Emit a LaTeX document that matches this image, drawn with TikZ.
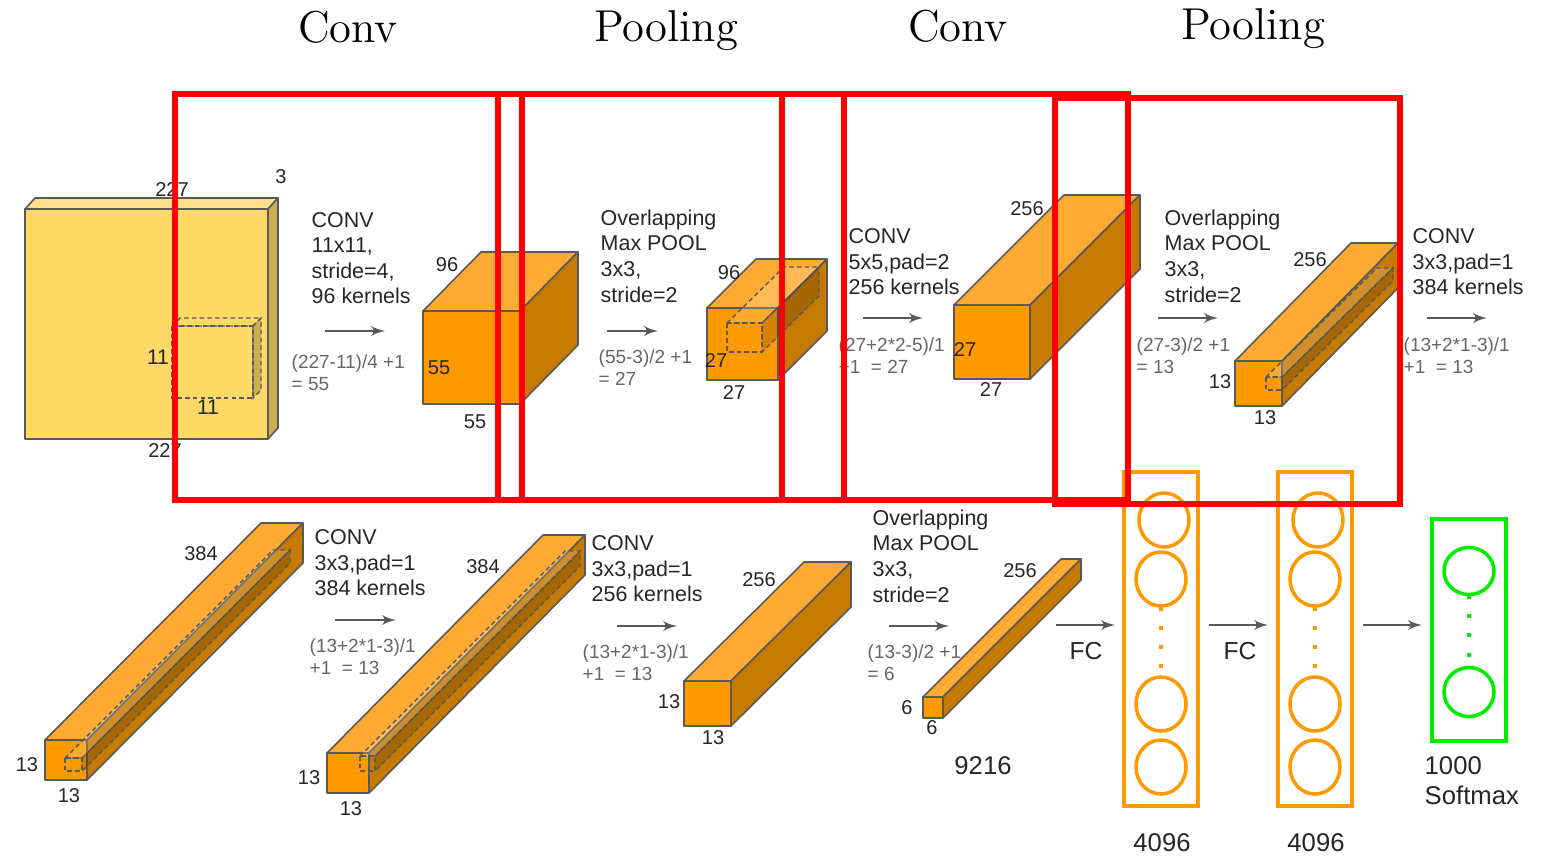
\documentclass[tikz,border=0pt]{standalone}
\usepackage{xcolor}
\usepackage{fontspec}
\setsansfont{Liberation Sans}
\usepackage{tikz}
\usetikzlibrary{shapes.geometric, arrows}

\definecolor{yelfront}{HTML}{FFD966}
\definecolor{yeltop}{HTML}{FFE08A}
\definecolor{yelside}{HTML}{CCAE52}
\definecolor{orgfront}{HTML}{FF9900}
\definecolor{orgtop}{HTML}{FFAB33}
\definecolor{orgside}{HTML}{C67A00}
\definecolor{edge}{HTML}{595959}
\definecolor{fclayer}{HTML}{FF9900}
\definecolor{outlayer}{HTML}{00EE00}

% block: colour prefix, front x, y, w, h, depth dx, dy
\newcommand{\cuboid}[7][org]{
    \draw [face, fill=#1top] (#2,#3) -- ++(#6,-#7) -- ++(#4,0) -- ++(-#6,#7) -- cycle;
    \draw [face, fill=#1side] (#2+#4,#3) -- ++(#6,-#7) -- ++(0,#5) -- ++(-#6,#7) -- cycle;
    \draw [face, fill=#1front] (#2,#3) rectangle ++(#4,#5);
}
% receptive field: top look, side look, front x, y, w, h, depth dx, dy
\newcommand{\kernelbox}[8]{
    \draw [window, #1] (#3,#4) -- ++(#7,-#8) -- ++(#5,0) -- ++(-#7,#8) -- cycle;
    \draw [window, #2] (#3+#5,#4) -- ++(#7,-#8) -- ++(0,#6) -- ++(-#7,#8) -- cycle;
    \draw [window] (#3,#4) rectangle ++(#5,#6);
}

\begin{document}
\begin{tikzpicture}[x=0.01cm, y=-0.01cm,
    face/.style={draw=edge, line width=0.45pt, line join=round},
    window/.style={draw=edge, line width=0.4pt, dash pattern=on 1.3pt off 0.9pt},
    washtop/.style={fill=white, fill opacity=0.17},
    washside/.style={fill=black, fill opacity=0.16},
    flow/.style={-latex', draw=edge, line width=0.4pt},
    dims/.style={font=\sffamily\fontsize{5.7}{7}\selectfont, text=black!85, inner sep=0pt},
    steps/.style={font=\sffamily\fontsize{6.1}{7.27}\selectfont, text=black!85, align=left, anchor=west, inner sep=0pt},
    calcs/.style={font=\sffamily\fontsize{5.4}{6.27}\selectfont, text=black!60, align=left, anchor=west, inner sep=0pt},
    sizes/.style={font=\sffamily\fontsize{7.3}{8.6}\selectfont, text=black!85, align=left, inner sep=0pt},
    heading/.style={font=\fontsize{12.7}{14}\selectfont, inner sep=0pt},
    layerbox/.style={rectangle, draw, line width=1.1pt, minimum width=0.74cm},
    neuron/.style={ellipse, draw, line width=1pt, minimum width=0.5cm, inner sep=0pt},
    dotmark/.style={rectangle, fill, minimum size=0.04cm, inner sep=0pt},
    redbox/.style={draw=red, line width=1.5pt}]

    \useasboundingbox (0,0) rectangle (1542,856);

    % blocks, top row
    \cuboid[yel]{25}{209}{243}{230}{10}{11}
    \kernelbox{fill=yelfront}{fill=yelside}{172}{326}{81}{72}{8}{8}
    \cuboid{423}{311}{97}{93}{58}{59}
    \cuboid{707}{308}{71}{72}{49}{49}
    \kernelbox{washtop}{washside}{727}{323}{35}{29}{57}{56}
    \cuboid{954}{305}{76}{74}{110}{110}
    \cuboid{1235}{361}{47}{45}{116}{118}
    \kernelbox{washtop}{washside}{1266}{377}{16}{13}{111}{109}

    % blocks, bottom row
    \cuboid{45}{740}{42}{40}{216}{217}
    \kernelbox{washtop}{washside}{65}{758}{17}{13}{208}{208}
    \cuboid{327}{753}{42}{40}{216}{218}
    \kernelbox{washtop}{washside}{360}{756}{15}{15}{205}{205}
    \cuboid{684}{681}{47}{45}{120}{119}
    \cuboid{923}{697}{20}{21}{138}{138}

    % fully connected layers
    \node [layerbox, draw=fclayer, minimum height=3.34cm] (fcone) at (1161,639) {};
    \node [layerbox, draw=fclayer, minimum height=3.34cm] (fctwo) at (1315,639) {};
    \node [layerbox, draw=outlayer, minimum height=2.22cm] (softmax) at (1469,630) {};

    \node [neuron, draw=fclayer, minimum height=0.54cm] (fcone1) at (1164,520) {};
    \node [neuron, draw=fclayer, minimum height=0.54cm] (fcone2) at (1161,579) {};
    \node [neuron, draw=fclayer, minimum height=0.54cm] (fcone3) at (1161,704) {};
    \node [neuron, draw=fclayer, minimum height=0.54cm] (fcone4) at (1161,767) {};
    \node [dotmark, fill=fclayer] (fconea) at (1161,609) {};
    \node [dotmark, fill=fclayer] (fconeb) at (1161,628) {};
    \node [dotmark, fill=fclayer] (fconec) at (1161,647) {};
    \node [dotmark, fill=fclayer] (fconed) at (1161,666) {};

    \node [neuron, draw=fclayer, minimum height=0.54cm] (fctwo1) at (1318,520) {};
    \node [neuron, draw=fclayer, minimum height=0.54cm] (fctwo2) at (1315,579) {};
    \node [neuron, draw=fclayer, minimum height=0.54cm] (fctwo3) at (1315,704) {};
    \node [neuron, draw=fclayer, minimum height=0.54cm] (fctwo4) at (1315,767) {};
    \node [dotmark, fill=fclayer] (fctwoa) at (1315,609) {};
    \node [dotmark, fill=fclayer] (fctwob) at (1315,628) {};
    \node [dotmark, fill=fclayer] (fctwoc) at (1315,647) {};
    \node [dotmark, fill=fclayer] (fctwod) at (1315,666) {};

    \node [neuron, draw=outlayer, minimum height=0.47cm] (softmax1) at (1469,571) {};
    \node [neuron, draw=outlayer, minimum height=0.49cm] (softmax2) at (1469,692) {};
    \node [dotmark, fill=outlayer] (softmaxa) at (1469,597) {};
    \node [dotmark, fill=outlayer] (softmaxb) at (1469,616) {};
    \node [dotmark, fill=outlayer] (softmaxc) at (1469,635) {};
    \node [dotmark, fill=outlayer] (softmaxd) at (1469,655) {};

    % arrows
    \coordinate (conva) at (325,331); \coordinate (convb) at (385,331);
    \coordinate (poola) at (607,331); \coordinate (poolb) at (658,331);
    \coordinate (convc) at (863,318); \coordinate (convd) at (923,318);
    \coordinate (poolc) at (1158,318); \coordinate (poold) at (1218,318);
    \coordinate (conve) at (1427,318); \coordinate (convf) at (1487,318);
    \coordinate (convg) at (335,620); \coordinate (convh) at (396,620);
    \coordinate (convi) at (617,626); \coordinate (convj) at (677,626);
    \coordinate (poole) at (889,626); \coordinate (poolf) at (949,626);
    \coordinate (fca) at (1056,625); \coordinate (fcb) at (1115,625);
    \coordinate (fcc) at (1209,625); \coordinate (fcd) at (1268,625);
    \coordinate (fce) at (1363,625); \coordinate (fcf) at (1422,625);

    \draw [flow] (conva) -- (convb);
    \draw [flow] (poola) -- (poolb);
    \draw [flow] (convc) -- (convd);
    \draw [flow] (poolc) -- (poold);
    \draw [flow] (conve) -- (convf);
    \draw [flow] (convg) -- (convh);
    \draw [flow] (convi) -- (convj);
    \draw [flow] (poole) -- (poolf);
    \draw [flow] (fca) -- (fcb);
    \draw [flow] (fcc) -- (fcd);
    \draw [flow] (fce) -- (fcf);

    % operation labels
    \node [steps] (opone) at (311,258) {CONV\\11x11,\\stride=4,\\96 kernels};
    \node [steps] (optwo) at (600,256) {Overlapping\\Max POOL\\3x3,\\stride=2};
    \node [steps] (opthree) at (848,262) {CONV\\5x5,pad=2\\256 kernels};
    \node [steps] (opfour) at (1164,256) {Overlapping\\Max POOL\\3x3,\\stride=2};
    \node [steps] (opfive) at (1412,262) {CONV\\3x3,pad=1\\384 kernels};
    \node [steps] (opsix) at (314,563) {CONV\\3x3,pad=1\\384 kernels};
    \node [steps] (opseven) at (591,569) {CONV\\3x3,pad=1\\256 kernels};
    \node [steps] (opeight) at (872,556) {Overlapping\\Max POOL\\3x3,\\stride=2};

    \node [calcs] (sumone) at (291,373) {(227-11)/4 +1\\= 55};
    \node [calcs] (sumtwo) at (598,368) {(55-3)/2 +1\\= 27};
    \node [calcs] (sumthree) at (838,356) {(27+2*2-5)/1\\+1\ \ = 27};
    \node [calcs] (sumfour) at (1136,356) {(27-3)/2 +1\\= 13};
    \node [calcs] (sumfive) at (1403,356) {(13+2*1-3)/1\\+1\ \ = 13};
    \node [calcs] (sumsix) at (309,657) {(13+2*1-3)/1\\+1\ \ = 13};
    \node [calcs] (sumseven) at (582,663) {(13+2*1-3)/1\\+1\ \ = 13};
    \node [calcs] (sumeight) at (867,663) {(13-3)/2 +1\\= 6};

    % sizes
    \node [dims] (intop) at (172,189) {227};
    \node [dims] (indepth) at (281,177) {3};
    \node [dims] (inbottom) at (165,450) {227};
    \node [dims, font=\sffamily\fontsize{6}{7}\selectfont] (kernleft) at (158,357) {11};
    \node [dims, font=\sffamily\fontsize{6}{7}\selectfont] (kernbottom) at (208,407) {11};
    \node [dims] (aone) at (447,265) {96};
    \node [dims] (atwo) at (439,368) {55};
    \node [dims] (athree) at (475,422) {55};
    \node [dims] (bone) at (729,273) {96};
    \node [dims] (btwo) at (716,360) {27};
    \node [dims] (bthree) at (734,392) {27};
    \node [dims] (cone) at (1027,209) {256};
    \node [dims] (ctwo) at (965,349) {27};
    \node [dims] (cthree) at (991,389) {27};
    \node [dims] (done) at (1310,260) {256};
    \node [dims] (dtwo) at (1220,382) {13};
    \node [dims] (dthree) at (1265,418) {13};
    \node [dims] (eone) at (201,554) {384};
    \node [dims] (etwo) at (27,765) {13};
    \node [dims] (ethree) at (69,796) {13};
    \node [dims] (fone) at (483,567) {384};
    \node [dims] (ftwo) at (309,778) {13};
    \node [dims] (fthree) at (351,809) {13};
    \node [dims] (gone) at (759,580) {256};
    \node [dims] (gtwo) at (669,702) {13};
    \node [dims] (gthree) at (713,738) {13};
    \node [dims] (hone) at (1020,571) {256};
    \node [dims] (htwo) at (907,708) {6};
    \node [dims] (hthree) at (932,728) {6};

    \node [sizes] (flat) at (983,766) {9216};
    \node [sizes] (fconesize) at (1162,843) {4096};
    \node [sizes] (fctwosize) at (1316,843) {4096};
    \node [sizes, anchor=west] (softmaxsize) at (1424,781) {1000\\Softmax};
    \node [dims, font=\sffamily\fontsize{7}{8}\selectfont] (fclabela) at (1086,651) {FC};
    \node [dims, font=\sffamily\fontsize{7}{8}\selectfont] (fclabelb) at (1240,651) {FC};

    % stage headings
    \node [heading] (convone) at (348,27) {Conv};
    \node [heading] (poolone) at (666,31) {Pooling};
    \node [heading] (convtwo) at (958,26) {Conv};
    \node [heading] (pooltwo) at (1253,29) {Pooling};

    % stage frames
    \draw [redbox] (175,94) rectangle (522,500);
    \draw [redbox] (498,94) rectangle (844,500);
    \draw [redbox] (782,94) rectangle (1128,500);
    \draw [redbox] (1055,98) rectangle (1400,504);
\end{tikzpicture}
\end{document}
